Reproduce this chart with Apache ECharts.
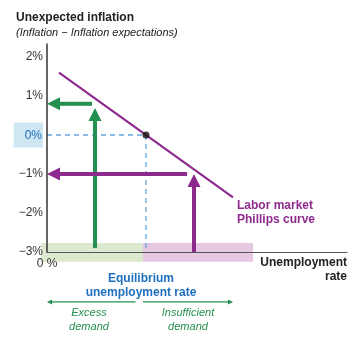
<!DOCTYPE html>
<html><head><meta charset="utf-8">
<script src="https://cdn.jsdelivr.net/npm/echarts@6/dist/echarts.min.js"></script>
<style>html,body{margin:0;padding:0;background:#fff}#c{width:350px;height:346px}</style>
</head><body><div id="c"></div>
<script>
// ---- data (x: unemployment in chart units, y: unexpected inflation %) ----
const yTicks = [-3, -2, -1, 0, 1, 2];
const xRange = [0, 10];
const yRange = [-3, 2.333];
const equilibrium = [3.3, 0];
const phillipsCurve = [[0.4, 1.6], [6.2, -1.6]];
const greenArrows = [[1.6, -2.9, 1.6, 0.69], [1.5, 0.8, 0, 0.8]];
const purpleArrows = [[4.9, -3, 4.9, -1.0], [4.67, -1, 0, -1]];
const eqGuide = [[0, 0], [3.3, 0], [3.3, -3]];
const excessZone = [[-0.2, -3.25, 3.2, -2.77]];
const insufficientZone = [[3.2, -3.25, 6.87, -2.77]];
const demandArrows = [[2.95, -4.28, 0, -4.28], [3.2, -4.28, 6.2, -4.28]];

const GREEN = '#23904f', PURPLE = '#8e2a8e', BLUE = '#1f6fbf';
const FONT = '"Liberation Sans", Arial, sans-serif';

function arrowSeries(data, color, lw, headLen, headW, z) {
  return {
    type: 'custom', clip: false, z: z || 6, silent: true,
    data: data,
    renderItem: function (params, api) {
      const p1 = api.coord([api.value(0), api.value(1)]);
      const p2 = api.coord([api.value(2), api.value(3)]);
      const dx = p2[0] - p1[0], dy = p2[1] - p1[1];
      const L = Math.sqrt(dx * dx + dy * dy);
      const ux = dx / L, uy = dy / L, nx = -uy, ny = ux;
      const bx = p2[0] - ux * headLen, by = p2[1] - uy * headLen;
      return {
        type: 'group', children: [
          { type: 'line', shape: { x1: p1[0], y1: p1[1], x2: bx, y2: by }, style: { stroke: color, lineWidth: lw } },
          { type: 'polygon', shape: { points: [[p2[0], p2[1]], [bx + nx * headW / 2, by + ny * headW / 2], [bx - nx * headW / 2, by - ny * headW / 2]] }, style: { fill: color } }
        ]
      };
    }
  };
}
function rectSeries(data, color) {
  return {
    type: 'custom', clip: false, z: 1, silent: true, data: data,
    renderItem: function (params, api) {
      const a = api.coord([api.value(0), api.value(3)]);
      const b = api.coord([api.value(2), api.value(1)]);
      return { type: 'rect', shape: { x: a[0], y: a[1], width: b[0] - a[0], height: b[1] - a[1] }, style: { fill: color } };
    }
  };
}

const chart = echarts.init(document.getElementById('c'));
chart.setOption({
  animation: false,
  grid: { left: 47, right: 3, top: 44, bottom: 94 },
  xAxis: {
    type: 'value', min: xRange[0], max: xRange[1], interval: 10, z: 4,
    axisLine: { onZero: false, lineStyle: { color: '#555', width: 1.2 } },
    axisTick: { show: false }, splitLine: { show: false },
    axisLabel: { formatter: v => v === 0 ? '0 %' : '', color: '#333', fontSize: 12, fontFamily: FONT, margin: 6 }
  },
  yAxis: {
    type: 'value', min: yRange[0], max: yRange[1], interval: 1, z: 4,
    axisLine: { show: true, onZero: false, lineStyle: { color: '#333', width: 1.5 } },
    axisTick: { show: false }, splitLine: { show: false },
    axisLabel: {
      margin: 4, color: '#333', fontSize: 12, fontFamily: FONT,
      formatter: v => {
        if (!yTicks.includes(v)) return '';
        if (v === 0) return '{z|0%}';
        return (v < 0 ? '\u2212' + (-v) : v) + '%';
      },
      rich: { z: { color: BLUE, fontSize: 12, fontFamily: FONT, backgroundColor: '#cfe7f2', padding: [7, 1, 6, 11] } }
    }
  },
  series: [
    rectSeries(excessZone, '#dce9cf'),
    rectSeries(insufficientZone, '#e6c8e2'),
    { type: 'line', data: eqGuide, symbol: 'none', z: 2, lineStyle: { color: '#62a6e0', width: 1.3, type: [5, 4] } },
    { type: 'line', data: phillipsCurve, symbol: 'none', z: 5, lineStyle: { color: PURPLE, width: 2.2 } },
    { type: 'scatter', data: [equilibrium], symbolSize: 7, z: 7, itemStyle: { color: '#111' } },
    arrowSeries(greenArrows, GREEN, 4, 13, 13),
    arrowSeries(purpleArrows, PURPLE, 4, 13, 13),
    arrowSeries(demandArrows, GREEN, 1.2, 5, 5)
  ],
  graphic: [
    { type: 'text', left: 16, top: 12, style: { text: 'Unexpected inflation', font: 'bold 12px ' + FONT, fill: '#222' } },
    { type: 'text', left: 16, top: 27, style: { text: '(Inflation \u2212 Inflation expectations)', font: 'italic 11px ' + FONT, fill: '#222' } },
    { type: 'text', x: 347, y: 256, style: { text: 'Unemployment\nrate', font: 'bold 12px ' + FONT, fill: '#222', align: 'right', lineHeight: 14 } },
    { type: 'text', x: 141, y: 271, style: { text: 'Equilibrium\nunemployment rate', font: 'bold 12px ' + FONT, fill: BLUE, align: 'center', lineHeight: 14.5 } },
    { type: 'text', x: 89, y: 306, style: { text: 'Excess\ndemand', font: 'italic 11px ' + FONT, fill: GREEN, align: 'center', lineHeight: 14 } },
    { type: 'text', x: 188, y: 306, style: { text: 'Insufficient\ndemand', font: 'italic 11px ' + FONT, fill: GREEN, align: 'center', lineHeight: 14 } },
    { type: 'text', x: 237, y: 199, style: { text: 'Labor market\nPhillips curve', font: 'bold 12px ' + FONT, fill: PURPLE, align: 'left', lineHeight: 14 } }
  ]
});
</script></body></html>
